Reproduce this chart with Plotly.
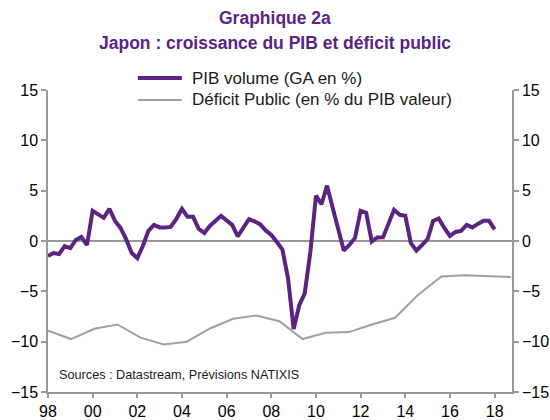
import plotly.graph_objects as go

# Quarterly GDP growth (yoy, %), 1998Q1 .. 2018Q1
gdp_years = list(range(1998, 2019))
gdp_values = [
    -1.5, -1.2, -1.3, -0.5,   # 1998
    -0.7, 0.1, 0.4, -0.4,     # 1999
    3.0, 2.7, 2.3, 3.2,       # 2000
    2.0, 1.3, 0.2, -1.2,      # 2001
    -1.7, -0.5, 1.0, 1.6,     # 2002
    1.35, 1.35, 1.4, 2.2,     # 2003
    3.2, 2.4, 2.4, 1.2,       # 2004
    0.8, 1.5, 2.0, 2.5,       # 2005
    2.05, 1.6, 0.46, 1.4,     # 2006
    2.17, 1.95, 1.68, 1.05,   # 2007
    0.6, -0.1, -0.85, -3.7,   # 2008
    -8.75, -6.4, -5.2, -1.1,  # 2009
    4.5, 3.65, 5.5, 3.3,      # 2010
    1.0, -0.95, -0.4, 0.3,    # 2011
    3.0, 2.8, -0.05, 0.35,    # 2012
    0.36, 1.7, 3.1, 2.6,      # 2013
    2.5, -0.2, -0.96, -0.4,   # 2014
    0.2, 2.0, 2.24, 1.3,      # 2015
    0.5, 0.9, 1.0, 1.6,       # 2016
    1.35, 1.7, 2.0, 2.0,      # 2017
    1.15,                     # 2018
]
gdp_dates = [f"{y}-{m:02d}-01" for y in gdp_years for m in (1, 4, 7, 10)][:len(gdp_values)]

# Annual public deficit (% of nominal GDP), 1998 .. 2018
deficit_years = list(range(1998, 2019))
deficit_values = [-8.9, -9.74, -8.72, -8.29, -9.6, -10.27, -10.0, -8.69, -7.73, -7.4,
                  -7.97, -9.74, -9.11, -9.05, -8.29, -7.63, -5.33, -3.52, -3.39, -3.46, -3.58]

x_tickvals = [f"{y}-01-01" for y in range(1998, 2019, 2)]
x_ticktext = ["98", "00", "02", "04", "06", "08", "10", "12", "14", "16", "18"]

series_names = ["PIB volume (GA en %)", "Déficit Public (en % du PIB valeur)"]

PURPLE = "#5B2482"
GRAY = "#A0A0A0"
AXIS = "#999999"
FONT = "Arial, Liberation Sans, sans-serif"

fig = go.Figure()
fig.add_trace(go.Scatter(
    x=gdp_dates, y=gdp_values, mode="lines", name=series_names[0],
    line=dict(color=PURPLE, width=4), xaxis="x", yaxis="y", showlegend=False))
fig.add_trace(go.Scatter(
    x=deficit_years, y=deficit_values, mode="lines", name=series_names[1],
    line=dict(color=GRAY, width=2), xaxis="x2", yaxis="y2", showlegend=False))

axis_common = dict(showline=True, linecolor=AXIS, linewidth=1.5,
                   ticks="outside", ticklen=5, tickcolor=AXIS, tickwidth=1.5,
                   showgrid=False, automargin=False)

# plot area: 48..512 px horizontally, 90..392 px vertically
PH = 420 - 90 - 28

def py(pixel_y):
    return (420 - 28 - pixel_y) / PH

# legend drawn as shapes + text (paper coordinates)
leg_x0, leg_x1, leg_tx = 0.1936, 0.2885, 0.3058
leg_rows = [py(78), py(100)]
shapes = [
    dict(type="line", xref="paper", yref="paper", x0=leg_x0, x1=leg_x1,
         y0=leg_rows[0], y1=leg_rows[0], line=dict(color=PURPLE, width=4)),
    dict(type="line", xref="paper", yref="paper", x0=leg_x0, x1=leg_x1,
         y0=leg_rows[1], y1=leg_rows[1], line=dict(color=GRAY, width=2)),
]
annotations = [
    dict(text="<b>Graphique 2a</b>", xref="paper", yref="paper", x=0.489, y=py(18),
         showarrow=False, font=dict(size=17.5, color=PURPLE), xanchor="center", yanchor="middle"),
    dict(text="<b>Japon : croissance du PIB et déficit public</b>", xref="paper", yref="paper",
         x=0.489, y=py(43), showarrow=False, font=dict(size=17.5, color=PURPLE),
         xanchor="center", yanchor="middle"),
    dict(text="Sources : Datastream, Prévisions NATIXIS", xref="paper", yref="paper",
         x=0.019, y=py(375), showarrow=False, font=dict(size=12.7, color="#1a1a1a"),
         xanchor="left", yanchor="middle"),
]
for name, yy in zip(series_names, leg_rows):
    annotations.append(dict(text=name, xref="paper", yref="paper", x=leg_tx, y=yy,
                            showarrow=False, font=dict(size=17, color="#1a1a1a"),
                            xanchor="left", yanchor="middle"))

fig.update_layout(
    width=550, height=420,
    margin=dict(l=48, r=38, t=90, b=28),
    paper_bgcolor="white", plot_bgcolor="white",
    font=dict(family=FONT, size=16, color="#000000"),
    showlegend=False,
    xaxis=dict(type="date", range=["1998-01-01", "2018-10-12"],
               tickvals=x_tickvals, ticktext=x_ticktext, zeroline=False,
               **{**axis_common, "ticklen": 4}),
    xaxis2=dict(overlaying="x", range=[1998, 2018.05], visible=False),
    yaxis=dict(range=[-15, 15], dtick=5, zeroline=True, zerolinecolor=AXIS,
               zerolinewidth=1.5, **axis_common),
    yaxis2=dict(overlaying="y", side="right", range=[-15, 15], dtick=5,
                zeroline=False, **axis_common),
    shapes=shapes,
    annotations=annotations,
)

fig.write_html("out.html",
               config={"displayModeBar": False},
               post_script="document.body.style.margin='0';document.body.style.padding='0';")
